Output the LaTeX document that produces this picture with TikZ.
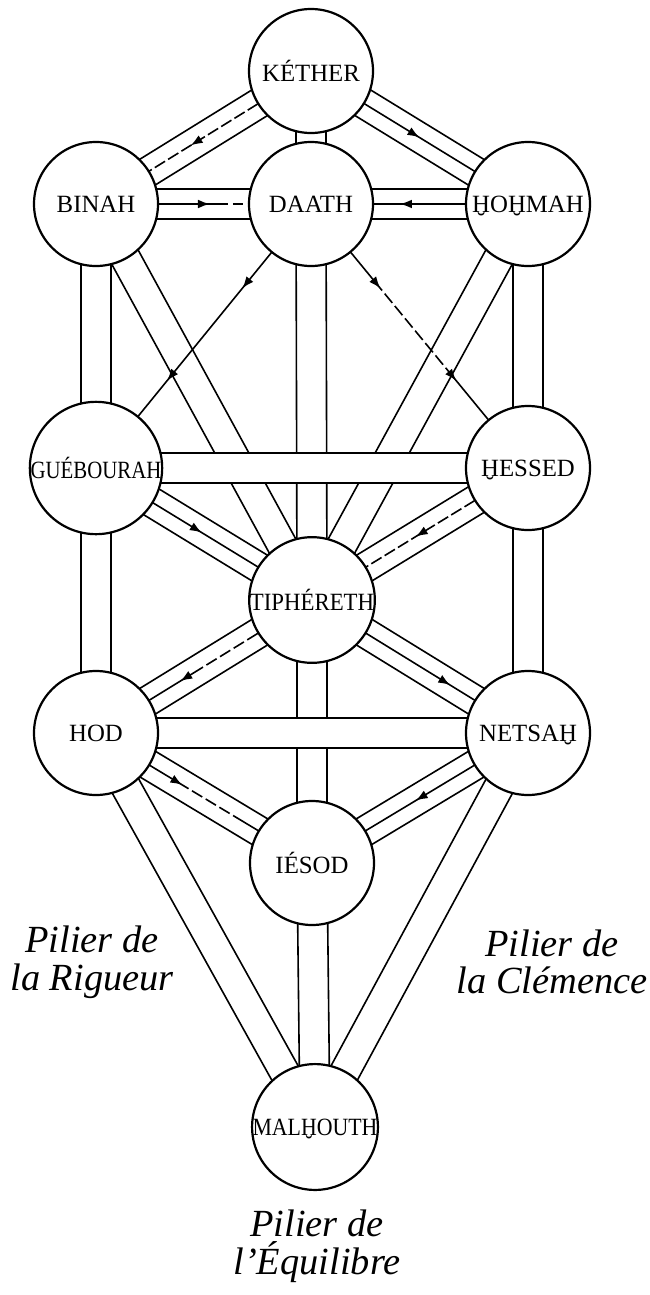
\documentclass[tikz,border=0pt]{standalone}
\usepackage{fontspec}
\setmainfont{Liberation Serif}
\usetikzlibrary{calc,arrows.meta,decorations.markings}
\pgfdeclarelayer{paths}
\pgfdeclarelayer{bands}
\pgfsetlayers{paths,bands,main}
% H with a breve below
\newcommand{\Hb}{\ooalign{H\cr\hidewidth\smash{\raisebox{-0.72em}{\char"02D8}}\hidewidth\cr}}

\begin{document}
\begin{tikzpicture}[x=0.25pt, y=-0.25pt, line width=0.55pt,
    sephira/.style={draw, circle, fill=white, minimum size=31pt, inner sep=0pt,
                    font=\fontsize{6.2}{7}\selectfont},
    pillar/.style={align=center, inner sep=0pt, font=\fontsize{9.6}{9.4}\selectfont\itshape},
    flow/.style={postaction={decorate}, decoration={markings,
                 mark=at position #1 with {\arrow{Latex[length=3pt,width=2.2pt]}}}},
    twoflow/.style={postaction={decorate}, decoration={markings,
                 mark=at position 0.32 with {\arrow{Latex[length=3pt,width=2.2pt]}},
                 mark=at position 0.67 with {\arrow{Latex[length=3pt,width=2.2pt]}}}},
    broken/.style={dash pattern=on 3pt off 0.9pt}
  ]
    \useasboundingbox (0,0) rectangle (650,1295);

    % the sephiroth
    \node[sephira] (kether)    at (311,71)   {KÉTHER};
    \node[sephira] (binah)     at (96,204)   {BINAH};
    \node[sephira] (daath)     at (311,204)  {DAATH};
    \node[sephira] (hohmah)    at (528,204)  {\Hb O\Hb MAH};
    \node[sephira] (guebourah) at (96,468)   {\scalebox{0.84}[1]{GUÉBOURAH}};
    \node[sephira] (hessed)    at (528,468)  {\Hb ESSED};
    \node[sephira] (tiphereth) at (312,600)  {\scalebox{0.92}[1]{TIPHÉRETH}};
    \node[sephira] (hod)       at (96,733)   {HOD};
    \node[sephira] (netsah)    at (528,733)  {NETSA\Hb};
    \node[sephira] (iesod)     at (312,863)  {IÉSOD};
    \node[sephira] (malhouth)  at (315,1127) {\scalebox{0.88}[1]{MAL\Hb OUTH}};

    % the pillars
    \node[pillar] (rigueur)   at (92,962)   {Pilier de\\la Rigueur};
    \node[pillar] (clemence)  at (552,962)  {Pilier de\\la Clémence};
    \node[pillar] (equilibre) at (317,1246) {Pilier de\\l’Équilibre};

    % channels
    \begin{pgfonlayer}{paths}
      \foreach \a/\b in {kether/daath, kether/binah, kether/hohmah, binah/daath, hohmah/daath,
                         binah/guebourah, binah/tiphereth, daath/tiphereth, hohmah/tiphereth,
                         hohmah/hessed, guebourah/hod, hessed/netsah, guebourah/tiphereth,
                         hessed/tiphereth, tiphereth/hod, tiphereth/netsah, tiphereth/iesod,
                         hod/iesod, netsah/iesod, hod/malhouth, netsah/malhouth, iesod/malhouth}
      {
        \draw ($(\a.center)!3.75pt!90:(\b.center)$) -- ($(\b.center)!3.75pt!-90:(\a.center)$);
        \draw ($(\a.center)!3.75pt!-90:(\b.center)$) -- ($(\b.center)!3.75pt!90:(\a.center)$);
      }
      \draw[flow=0.56, broken] (kether.center) -- (binah.center);
      \draw[flow=0.5] (kether.center) -- (hohmah.center);
      \draw[flow=0.53, dash pattern=on 33pt off 1.2pt on 2.5pt off 1.2pt on 60pt off 1pt]
        (binah.center) -- (daath.center);
      \draw[flow=0.59] (hohmah.center) -- (daath.center);
      \draw[flow=0.49] (guebourah.center) -- (tiphereth.center);
      \draw[flow=0.52, broken] (hessed.center) -- (tiphereth.center);
      \draw[flow=0.61, dash pattern=on 19pt off 1pt on 3pt off 1pt on 3pt off 1pt on 3pt off 1pt on 60pt off 1pt]
        (tiphereth.center) -- (hod.center);
      \draw[flow=0.64] (tiphereth.center) -- (netsah.center);
      \draw[flow=0.40, dash pattern=on 27pt off 1pt on 3pt off 1pt on 3pt off 1pt on 3pt off 1pt on 60pt off 1pt]
        (hod.center) -- (iesod.center);
      \draw[flow=0.52] (netsah.center) -- (iesod.center);
      \draw[twoflow] (daath.center) -- (guebourah.center);
      \draw[twoflow, dash pattern=on 28pt off 1pt on 3pt off 1pt on 3pt off 1pt on 3pt off 1pt
                     on 3pt off 1pt on 3pt off 1pt on 3pt off 1pt on 60pt off 1pt]
        (daath.center) -- (hessed.center);
    \end{pgfonlayer}

    \begin{pgfonlayer}{bands}
      \draw[fill=white] ($(guebourah.center)+(0,-15)$) rectangle ($(hessed.center)+(0,15)$);
      \draw[fill=white] ($(hod.center)+(0,-15)$) rectangle ($(netsah.center)+(0,15)$);
    \end{pgfonlayer}
  \end{tikzpicture}
\end{document}
